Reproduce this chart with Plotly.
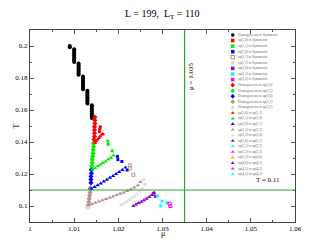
import plotly.graph_objects as go

# ---------------- data ----------------
# Homogeneous -> Symmetric (black circles)
hs_mu = [1.009, 1.009] + [1.010]*9 + [1.011]*8 + [1.012]*9 + [1.013]*9 + [1.014]*9
hs_T = [0.2000, 0.1992,
        0.198, 0.197, 0.196, 0.195, 0.194, 0.193, 0.192, 0.191, 0.190,
        0.189, 0.188, 0.187, 0.186, 0.185, 0.184, 0.183, 0.182,
        0.181, 0.180, 0.179, 0.178, 0.177, 0.176, 0.175, 0.174, 0.173,
        0.172, 0.171, 0.170, 0.169, 0.168, 0.167, 0.166, 0.165, 0.164,
        0.163, 0.162, 0.161, 0.160, 0.159, 0.158, 0.157, 0.156, 0.155]

# Homogeneous -> sp (diamonds), left arms
red_d_mu = [1.0147, 1.0147, 1.0147, 1.0146, 1.0146, 1.0146, 1.0146, 1.0145, 1.0145]
red_d_T = [0.1555, 0.1535, 0.1515, 0.1495, 0.1475, 0.1455, 0.1435, 0.1415, 0.1395]
grn_d_mu = [1.0144, 1.0144, 1.0143, 1.0143, 1.0142, 1.0141, 1.0141, 1.0140, 1.0139]
grn_d_T = [0.1390, 0.1370, 0.1350, 0.1330, 0.1310, 0.1290, 0.1270, 0.1250, 0.1230]
blu_d_mu = [1.0139, 1.0139, 1.0138, 1.0138, 1.0138, 1.0137]
blu_d_T = [0.1225, 0.1205, 0.1185, 0.1165, 0.1145, 0.1110]
pnk_d_mu = [1.0137, 1.0136, 1.0135, 1.0134, 1.0133, 1.0132]
pnk_d_T = [0.1105, 0.1085, 0.1065, 0.1045, 0.1025, 0.1005]
gry_d_mu = [1.0131, 1.0131]
gry_d_T = [0.0995, 0.0988]

# sp -> Symmetric (squares)
red_s_mu = [1.0159, 1.0158, 1.0157]
red_s_T = [0.1495, 0.1480, 0.1465]
grn_s_mu = [1.0176, 1.0177, 1.0186]
grn_s_T = [0.1405, 0.1385, 0.1345]
blu_s_mu = [1.0198, 1.0199, 1.0208, 1.0220]
blu_s_T = [0.1310, 0.1290, 0.1278, 0.1225]
pnk_s_mu = [1.0226, 1.0227, 1.0234]
pnk_s_T = [0.1255, 0.1235, 0.1195]
gry_s_mu = [1.0257, 1.0260]
gry_s_T = [0.1165, 0.1135]
pur_s_mu = [1.0280, 1.0284]
pur_s_T = [0.1080, 0.1060]
cyn_s_mu = [1.0288, 1.0299, 1.0296, 1.0310]
cyn_s_T = [0.1062, 0.1031, 0.1000, 0.1021]
mag_s_mu = [1.0316, 1.0318]
mag_s_T = [0.1015, 0.1000]

# sp -> sp (triangles), right arms
red_t_mu = [1.0147, 1.0150, 1.0153, 1.0156, 1.0159, 1.0162, 1.0165]
red_t_T = [0.1395, 0.1405, 0.1415, 0.1425, 0.1435, 0.1445, 0.1450]
grn_t_mu = [1.0141, 1.0147, 1.0153, 1.0159, 1.0165, 1.0171, 1.0177, 1.0183, 1.0189]
grn_t_T = [0.1228, 0.1238, 0.1248, 0.1258, 0.1268, 0.1278, 0.1290, 0.1302, 0.1315]
blu_t_mu = [1.0139, 1.0146, 1.0153, 1.0160, 1.0167, 1.0174, 1.0181, 1.0188, 1.0195, 1.0202, 1.0209, 1.0216]
blu_t_T = [0.1107, 0.1119, 0.1130, 0.1141, 0.1153, 0.1164, 0.1176, 0.1188, 0.1200, 0.1212, 0.1225, 0.1240]
pnk_t_mu = [1.0132, 1.0140, 1.0148, 1.0156, 1.0164, 1.0172, 1.0180, 1.0188, 1.0196, 1.0204, 1.0212, 1.0220, 1.0228, 1.0236, 1.0244, 1.0250]
pnk_t_T = [0.1004, 0.1012, 0.1020, 0.1028, 0.1036, 0.1044, 0.1052, 0.1060, 0.1068, 0.1076, 0.1085, 0.1094, 0.1104, 0.1116, 0.1130, 0.1150]
gry_t_mu = [1.0206, 1.0212, 1.0218, 1.0224, 1.0230, 1.0236, 1.0242, 1.0248, 1.0254]
gry_t_T = [0.1005, 0.1015, 0.1025, 0.1036, 0.1048, 0.1060, 0.1074, 0.1090, 0.1110]
pur_t_mu = [1.0234, 1.0240, 1.0246, 1.0252, 1.0258, 1.0264, 1.0270, 1.0276, 1.0281]
pur_t_T = [0.1000, 0.1009, 0.1018, 0.1027, 0.1036, 0.1046, 0.1056, 0.1068, 0.1083]

# legend
legend_labels = [
    "Homogeneous to Symmetric",
    "sp(1,0) to Symmetric", "sp(1,1) to Symmetric", "sp(2,0) to Symmetric",
    "sp(2,1) to Symmetric", "sp(2,2) to Symmetric", "sp(3,0) to Symmetric",
    "sp(3,1) to Symmetric", "sp(3,2) to Symmetric",
    "Homogeneous to sp(1,0)", "Homogeneous to sp(1,1)", "Homogeneous to sp(2,0)",
    "Homogeneous to sp(2,1)", "Homogeneous to sp(2,2)",
    "sp(1,0) to sp(1,1)", "sp(1,1) to sp(2,0)", "sp(2,0) to sp(2,1)",
    "sp(2,1) to sp(2,2)", "sp(2,2) to sp(3,0)", "sp(3,0) to sp(3,1)",
    "sp(3,1) to sp(3,2)", "sp(3,2) to sp(3,3)", "sp(3,3) to sp(4,0)",
    "sp(4,0) to sp(4,1)", "sp(4,1) to sp(4,2)", "sp(4,2) to sp(4,3)",
]
RED, GRN, BLU, PNK, GRY, PUR, CYN, MAG = ("#ff0000", "#00ee00", "#0000ff", "#bc8f8f",
                                          "#dcdcdc", "#9400d3", "#00ffff", "#ff00ff")
legend_colors = ["#000000", RED, GRN, BLU, PNK, GRY, PUR, CYN, MAG,
                 RED, GRN, BLU, PNK, GRY,
                 RED, GRN, BLU, PNK, GRY, PUR, CYN, MAG, "#ffa500", PUR, MAG, CYN]
legend_symbols = (["circle"] + ["square"]*3 + ["square-open"] + ["square"]*4
                  + ["diamond"]*5 + ["triangle-up"]*12)

title_text = "L = 199,  L<sub>T</sub> = 110"
mu_line = 1.035
T_line = 0.11

# ---------------- figure ----------------
fig = go.Figure()
FONT = "Liberation Serif"

series = [
    (hs_mu, hs_T, "#000000", "circle", 4),
    (red_d_mu, red_d_T, RED, "diamond", 4), (grn_d_mu, grn_d_T, GRN, "diamond", 4),
    (blu_d_mu, blu_d_T, BLU, "diamond", 4), (pnk_d_mu, pnk_d_T, PNK, "diamond", 4),
    (gry_d_mu, gry_d_T, GRY, "diamond", 4),
    (red_s_mu, red_s_T, RED, "square", 3), (grn_s_mu, grn_s_T, GRN, "square", 3),
    (blu_s_mu, blu_s_T, BLU, "square", 3), (pnk_s_mu, pnk_s_T, PNK, "square-open", 3),
    (gry_s_mu, gry_s_T, GRY, "square", 3), (pur_s_mu, pur_s_T, PUR, "square", 3),
    (cyn_s_mu, cyn_s_T, CYN, "square", 3), (mag_s_mu, mag_s_T, MAG, "square-open", 3),
    (red_t_mu, red_t_T, RED, "triangle-up", 4), (grn_t_mu, grn_t_T, GRN, "triangle-up", 4),
    (blu_t_mu, blu_t_T, BLU, "triangle-up", 4), (pnk_t_mu, pnk_t_T, PNK, "triangle-up", 4),
    (gry_t_mu, gry_t_T, GRY, "triangle-up", 4), (pur_t_mu, pur_t_T, PUR, "triangle-up", 4),
]
for xs, ys, c, sym, sz in series:
    fig.add_trace(go.Scatter(x=xs, y=ys, mode="markers", showlegend=False,
                             marker=dict(color=c, symbol=sym, size=sz,
                                         line=dict(width=1 if "open" in sym else 0, color=c))))

# reference lines
fig.add_shape(type="line", x0=mu_line, x1=mu_line, y0=0, y1=1, xref="x", yref="paper",
              line=dict(color="#2aa82a", width=1.2))
fig.add_shape(type="line", x0=0, x1=1, y0=T_line, y1=T_line, xref="paper", yref="y",
              line=dict(color="#2aa82a", width=1.2))

# manual legend on an overlay axis (0..1 over the plot area)
PLOT_TOP, PLOT_BOT = 30, 223   # window pixels
n = len(legend_labels)
leg_y = [(PLOT_BOT - (35 + 5.6 * i)) / (PLOT_BOT - PLOT_TOP) for i in range(n)]
fig.add_trace(go.Scatter(x=[0.765]*n, y=leg_y, mode="markers", xaxis="x2", yaxis="y2",
                         showlegend=False,
                         marker=dict(color=legend_colors, symbol=legend_symbols, size=3.5,
                                     line=dict(width=0))))
fig.add_trace(go.Scatter(x=[0.785]*n, y=leg_y, mode="text", xaxis="x2", yaxis="y2",
                         showlegend=False, text=legend_labels, textposition="middle right",
                         textfont=dict(family=FONT, size=3.5, color="#666666")))

# page body has an 8px default margin: size/margins compensate for it
fig.update_layout(
    width=301, height=232,
    margin=dict(l=17, r=7, t=22, b=17),
    paper_bgcolor="white", plot_bgcolor="white",
    font=dict(family=FONT, color="#000000"),
    showlegend=False,
    xaxis=dict(range=[1, 1.06], dtick=0.01, tick0=1, ticks="inside", ticklen=4,
               tickcolor="#555555", showgrid=False, zeroline=False, showline=True,
               linecolor="#444444", linewidth=1, mirror="allticks",
               tickfont=dict(size=7, family=FONT),
               minor=dict(dtick=0.005, ticks="inside", ticklen=2, tickcolor="#555555")),
    yaxis=dict(range=[0.09, 0.21], dtick=0.02, tick0=0.1, ticks="inside", ticklen=4,
               tickcolor="#555555", showgrid=False, zeroline=False, showline=True,
               linecolor="#444444", linewidth=1, mirror="allticks",
               tickfont=dict(size=7, family=FONT),
               minor=dict(dtick=0.01, ticks="inside", ticklen=2, tickcolor="#555555")),
    xaxis2=dict(range=[0, 1], overlaying="x", visible=False, fixedrange=True),
    yaxis2=dict(range=[0, 1], overlaying="y", visible=False, fixedrange=True),
    annotations=[
        dict(text=title_text, xref="paper", yref="paper", x=0.5, y=1, yshift=16,
             showarrow=False, font=dict(size=10, family=FONT), yanchor="middle"),
        dict(text="μ", xref="paper", yref="paper", x=0.5, y=0, yshift=-11,
             showarrow=False, font=dict(size=8, family=FONT), yanchor="middle"),
        dict(text="T", xref="paper", yref="paper", x=0, xshift=-21, y=0.5,
             showarrow=False, textangle=-90, font=dict(size=8, family=FONT)),
        dict(text="μ = 1.035", x=1.0365, y=0.1808, xref="x", yref="y", showarrow=False,
             textangle=-90, font=dict(size=7, family=FONT)),
        dict(text="T = 0.11", x=1.0539, y=0.1161, xref="x", yref="y", showarrow=False,
             font=dict(size=7, family=FONT)),
    ],
)

fig.write_html("out.html")
